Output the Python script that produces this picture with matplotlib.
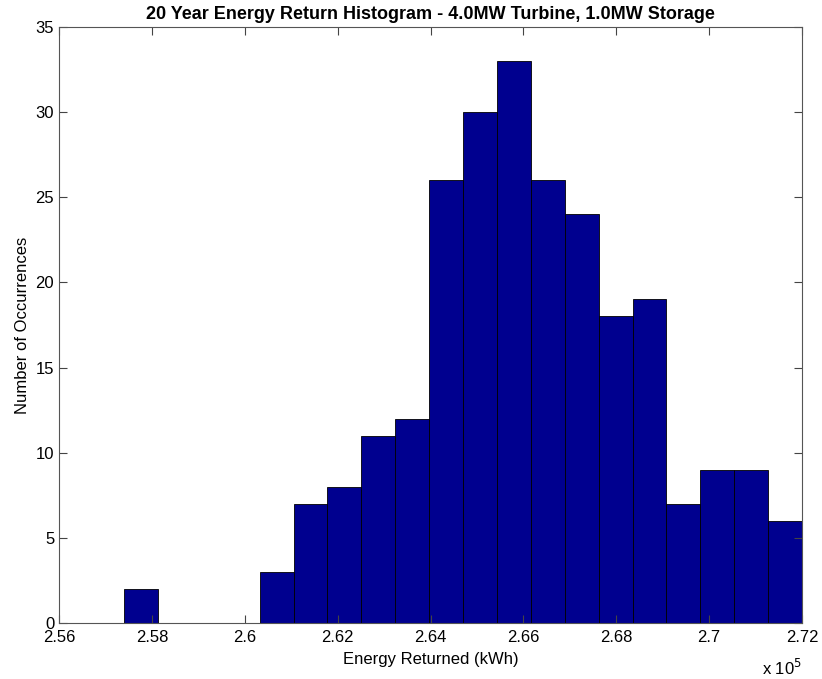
import numpy as np
import matplotlib.pyplot as plt
from matplotlib.ticker import FormatStrFormatter

plt.rcParams['font.family'] = ['Liberation Sans', 'DejaVu Sans']

# histogram: 20 bins, energy in units of 1e5 kWh
bin_lo = 2.574
bin_hi = 2.72
counts = [2, 0, 0, 0, 3, 7, 8, 11, 12, 26, 30, 33, 26, 24, 18, 19, 7, 9, 9, 6]

edges = np.linspace(bin_lo, bin_hi, len(counts) + 1)
width = edges[1] - edges[0]

fig = plt.figure(figsize=(8.22, 6.79), dpi=100)
ax = fig.add_axes([0.0718, 0.0825, 0.9039, 0.8777])

ax.bar(edges[:-1], counts, width=width, align='edge',
       color='#00008F', edgecolor='black', linewidth=0.6)

ax.set_xlim(2.56, 2.72)
ax.set_ylim(0, 35)
ax.set_xticks(np.arange(2.56, 2.7201, 0.02))
ax.set_yticks(np.arange(0, 36, 5))
ax.xaxis.set_major_formatter(FormatStrFormatter('%g'))
ax.tick_params(direction='in', top=True, right=True, labelsize=12, length=6, width=0.8, color='#444444')
ax.tick_params(axis='x', pad=5)
for s in ax.spines.values():
    s.set_color('#555555')
    s.set_linewidth(0.8)

ax.set_title('20 Year Energy Return Histogram - 4.0MW Turbine, 1.0MW Storage',
             fontsize=13, fontweight='bold', pad=6)
ax.set_xlabel('Energy Returned (kWh)', fontsize=12, labelpad=5)
ax.set_ylabel('Number of Occurrences', fontsize=12)
ax.text(0.973, -0.075, r'x 10$^5$', transform=ax.transAxes, ha='center', va='center', fontsize=12)

fig.savefig('out.png')
